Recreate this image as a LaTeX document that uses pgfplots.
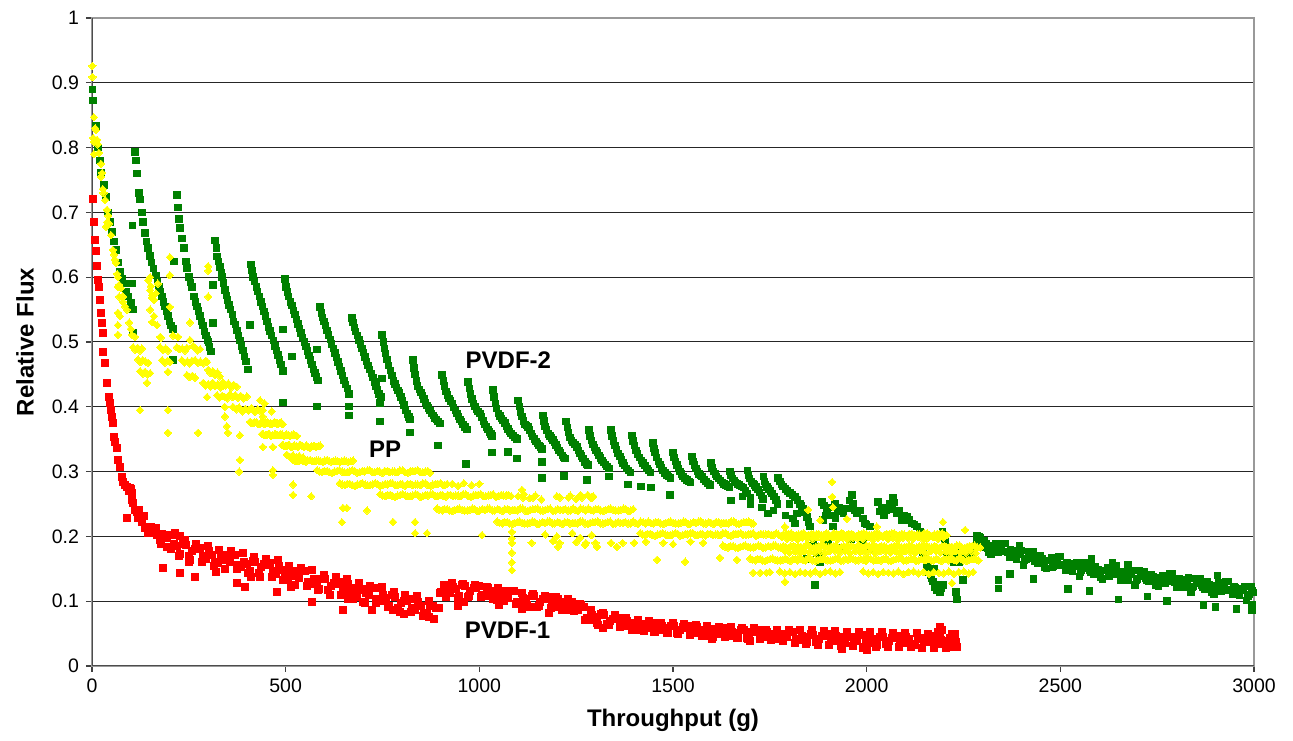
\documentclass[border=0pt]{standalone}
\usepackage{fontspec}
\setmainfont{Liberation Sans}
\usepackage{pgfplots}
\pgfplotsset{compat=1.18}
\definecolor{pvgreen}{RGB}{0,128,0}
\definecolor{pvred}{RGB}{255,0,0}
\definecolor{ppyellow}{RGB}{255,255,0}
\begin{document}
\begin{tikzpicture}
\begin{axis}[
  name=ax,
  scale only axis,
  width=581pt, height=324pt,
  xmin=0, xmax=3000, ymin=0, ymax=1,
  xtick={0,500,1000,1500,2000,2500,3000},
  xticklabels={0,500,1000,1500,2000,2500,3000},
  ytick={0,0.1,0.2,0.3,0.4,0.5,0.6,0.7,0.8,0.9,1},
  yticklabels={0,0.1,0.2,0.3,0.4,0.5,0.6,0.7,0.8,0.9,1},
  ymajorgrids,
  grid style={draw=black!85, line width=0.5pt},
  axis line style={draw=black!40, line width=1pt},
  tick align=outside, tick pos=left,
  major tick length=3pt,
  tick style={draw=black!75, line width=0.6pt},
  ticklabel style={font=\fontsize{9.75}{11}\selectfont},
  xlabel={Throughput (g)},
  ylabel={Relative Flux},
  label style={font=\fontsize{12}{14}\selectfont\bfseries},
  xlabel style={at={(axis description cs:0.5,-0.0941)}, anchor=base},
  ylabel style={at={(axis description cs:-0.0577,0.5)}, anchor=center},
  clip=true,
]
\draw[black!70, line width=1pt] (axis cs:0,0) -- (axis cs:0,1);
\draw[black!70, line width=1pt] (axis cs:0,0) -- (axis cs:3000,0);

% PVDF-1 (red)
\addplot[only marks, mark=square*, mark size=1.75pt, color=pvred, mark options={fill=pvred, draw=pvred, line width=0pt}] coordinates {
(3,0.72) (5,0.685) (8,0.657) (10,0.64) (13,0.617) (15,0.596) (18,0.585) (20,0.565) (23,0.545) (26,0.53) (28,0.514) (29,0.485) (34,0.467) (39,0.437) (44,0.415) (47,0.406) (50,0.395) (52,0.385) (54,0.375) (57,0.353) (60,0.345) (65,0.336) (67,0.318) (72,0.307) (77,0.292) (80,0.284) (85,0.28) (90,0.276) (95,0.27) (98,0.275) (103,0.256) (111,0.24) (119,0.233) (129,0.222) (137,0.215) (150,0.213) (163,0.205) (176,0.194) (194,0.184)
(100,0.273) (115,0.237) (130,0.229) (145,0.206) (160,0.212) (175,0.196) (190,0.202) (205,0.180) (220,0.185) (235,0.188) (250,0.170) (265,0.181) (280,0.182) (295,0.165) (310,0.171) (325,0.159) (340,0.171) (355,0.161) (370,0.172) (385,0.153) (400,0.158) (415,0.162) (430,0.144) (445,0.157) (460,0.159) (475,0.142) (490,0.148) (505,0.135) (520,0.146) (535,0.136) (550,0.146) (565,0.127) (580,0.131) (595,0.135) (610,0.117) (625,0.128) (640,0.130) (655,0.114) (670,0.120) (685,0.107) (700,0.119) (715,0.109) (730,0.120) (745,0.101) (760,0.105) (775,0.109) (790,0.090) (805,0.101) (820,0.103) (835,0.087) (850,0.093) (865,0.081) (880,0.093) (895,0.089) (910,0.125) (925,0.113) (940,0.119) (955,0.125) (970,0.107) (985,0.120) (1000,0.123) (1015,0.108) (1030,0.115) (1045,0.102) (1060,0.115) (1075,0.105) (1090,0.115) (1105,0.097) (1120,0.103) (1135,0.108) (1150,0.091) (1165,0.104) (1180,0.107) (1195,0.091) (1210,0.098) (1225,0.086) (1240,0.099) (1255,0.087) (1270,0.091) (1285,0.071) (1300,0.076) (1315,0.080) (1330,0.065) (1345,0.073) (1360,0.074) (1375,0.062) (1390,0.066) (1405,0.056) (1420,0.065) (1435,0.059) (1450,0.067) (1465,0.055) (1480,0.059) (1495,0.062) (1510,0.051) (1525,0.060) (1540,0.062) (1555,0.051) (1570,0.056) (1585,0.047) (1600,0.057) (1615,0.050) (1630,0.059) (1645,0.047) (1660,0.051) (1675,0.055) (1690,0.043) (1705,0.053) (1720,0.055) (1735,0.044) (1750,0.049) (1765,0.041) (1780,0.050) (1795,0.044) (1810,0.053) (1825,0.040) (1840,0.045) (1855,0.049) (1870,0.037) (1885,0.046) (1900,0.049) (1915,0.039) (1930,0.044) (1945,0.036) (1960,0.045) (1975,0.039) (1990,0.048) (2005,0.036) (2020,0.041) (2035,0.045) (2050,0.034) (2065,0.043) (2080,0.046) (2095,0.036) (2110,0.041) (2125,0.033) (2140,0.043) (2155,0.037) (2170,0.046) (2185,0.034) (2200,0.039) (2215,0.043) (2230,0.031)
(107,0.251) (122,0.240) (137,0.213) (152,0.214) (167,0.202) (182,0.204) (197,0.184) (212,0.188) (227,0.173) (242,0.187) (257,0.177) (272,0.180) (287,0.169) (302,0.177) (317,0.160) (332,0.170) (347,0.164) (362,0.172) (377,0.156) (392,0.161) (407,0.146) (422,0.161) (437,0.152) (452,0.156) (467,0.146) (482,0.155) (497,0.137) (512,0.146) (527,0.139) (542,0.146) (557,0.130) (572,0.134) (587,0.119) (602,0.134) (617,0.124) (632,0.127) (647,0.117) (662,0.126) (677,0.109) (692,0.118) (707,0.112) (722,0.120) (737,0.104) (752,0.109) (767,0.093) (782,0.107) (797,0.097) (812,0.100) (827,0.090) (842,0.099) (857,0.082) (872,0.092) (887,0.089) (902,0.114) (917,0.115) (932,0.122) (947,0.108) (962,0.124) (977,0.115) (992,0.120) (1007,0.110) (1022,0.120) (1037,0.104) (1052,0.114) (1067,0.108) (1082,0.116) (1097,0.099) (1112,0.105) (1127,0.091) (1142,0.108) (1157,0.098) (1172,0.103) (1187,0.094) (1202,0.104) (1217,0.088) (1232,0.097) (1247,0.092) (1262,0.094) (1277,0.074) (1292,0.079) (1307,0.064) (1322,0.079) (1337,0.070) (1352,0.073) (1367,0.065) (1382,0.070) (1397,0.058) (1412,0.064) (1427,0.061) (1442,0.067) (1457,0.056) (1472,0.061) (1487,0.051) (1502,0.062) (1517,0.056) (1532,0.059) (1547,0.053) (1562,0.060) (1577,0.049) (1592,0.056) (1607,0.052) (1622,0.059) (1637,0.048) (1652,0.053) (1667,0.043) (1682,0.055) (1697,0.049) (1712,0.052) (1727,0.046) (1742,0.053) (1757,0.042) (1772,0.049) (1787,0.046) (1802,0.052) (1817,0.042) (1832,0.046) (1847,0.037) (1862,0.048) (1877,0.042) (1892,0.046) (1907,0.040) (1922,0.047) (1937,0.037) (1952,0.044) (1967,0.041) (1982,0.048) (1997,0.038) (2012,0.042) (2027,0.033) (2042,0.045) (2057,0.039) (2072,0.043) (2087,0.037) (2102,0.045) (2117,0.034) (2132,0.042) (2147,0.039) (2162,0.045) (2177,0.035) (2192,0.040) (2207,0.031) (2222,0.042) (2230,0.037)
(104,0.267) (119,0.228) (134,0.231) (149,0.205) (164,0.213) (179,0.189) (194,0.198) (209,0.202) (224,0.170) (239,0.194) (254,0.163) (269,0.189) (284,0.161) (299,0.185) (314,0.155) (329,0.179) (344,0.150) (359,0.177) (374,0.150) (389,0.175) (404,0.144) (419,0.168) (434,0.138) (449,0.165) (464,0.138) (479,0.163) (494,0.132) (509,0.155) (524,0.125) (539,0.151) (554,0.123) (569,0.148) (584,0.117) (599,0.140) (614,0.110) (629,0.137) (644,0.110) (659,0.135) (674,0.104) (689,0.128) (704,0.097) (719,0.124) (734,0.097) (749,0.122) (764,0.091) (779,0.114) (794,0.083) (809,0.110) (824,0.083) (839,0.108) (854,0.077) (869,0.101) (884,0.073) (899,0.112) (914,0.107) (929,0.128) (944,0.105) (959,0.127) (974,0.108) (989,0.125) (1004,0.106) (1019,0.122) (1034,0.103) (1049,0.120) (1064,0.100) (1079,0.116) (1094,0.096) (1109,0.112) (1124,0.094) (1139,0.111) (1154,0.092) (1169,0.108) (1184,0.089) (1199,0.106) (1214,0.087) (1229,0.104) (1244,0.085) (1259,0.096) (1274,0.071) (1289,0.086) (1304,0.067) (1319,0.082) (1334,0.064) (1349,0.078) (1364,0.060) (1379,0.074) (1394,0.056) (1409,0.071) (1424,0.054) (1439,0.069) (1454,0.052) (1469,0.067) (1484,0.051) (1499,0.066) (1514,0.049) (1529,0.065) (1544,0.048) (1559,0.063) (1574,0.046) (1589,0.062) (1604,0.045) (1619,0.060) (1634,0.044) (1649,0.060) (1664,0.043) (1679,0.059) (1694,0.042) (1709,0.058) (1724,0.041) (1739,0.056) (1754,0.040) (1769,0.055) (1784,0.039) (1799,0.056) (1814,0.035) (1829,0.056) (1844,0.034) (1859,0.055) (1874,0.033) (1889,0.054) (1904,0.032) (1919,0.054) (1934,0.031) (1949,0.053) (1964,0.031) (1979,0.052) (1994,0.030) (2009,0.052) (2024,0.030) (2039,0.052) (2054,0.030) (2069,0.051) (2084,0.029) (2099,0.051) (2114,0.029) (2129,0.051) (2144,0.028) (2159,0.050) (2174,0.028) (2189,0.050) (2204,0.028) (2219,0.049) (2232,0.030)
(2190,0.060) (2195,0.055) (2185,0.052) (1935,0.026) (2000,0.025) (1990,0.028) (1600,0.042) (1320,0.058) (1110,0.088) (1050,0.094) (960,0.098) (945,0.093) (870,0.076) (805,0.080) (660,0.104) (700,0.098) (515,0.122) (410,0.138) (320,0.145) (250,0.160) (215,0.205) (227,0.200) (90,0.228) (183,0.151) (227,0.143) (266,0.137) (374,0.128) (395,0.122) (478,0.114) (568,0.099) (648,0.086) (723,0.086) (777,0.086) (2225,0.030) (2228,0.050) (1700,0.038) (1450,0.052) (1180,0.082)
};

% PVDF-2 (green)
\addplot[only marks, mark=square*, mark size=1.6pt, color=pvgreen, mark options={fill=pvgreen, draw=pvgreen, line width=0pt}] coordinates {
(1,0.89) (3,0.873) (10,0.833) (15,0.80) (21,0.78) (23,0.762) (31,0.742) (36,0.724) (41,0.70) (46,0.685) (52,0.67) (57,0.655) (62,0.642) (67,0.623) (72,0.608) (78,0.598) (83,0.59) (88,0.578) (93,0.57) (99,0.553) (101,0.56) (106,0.55)
(111,0.793) (114,0.78) (116,0.76) (121,0.73) (124,0.72) (129,0.70) (132,0.685) (137,0.668) (141,0.655) (145,0.645) (150,0.633) (154,0.623) (158,0.613) (165,0.603) (169,0.593) (173,0.585) (177,0.577) (181,0.57) (185,0.562) (188,0.555) (192,0.548) (196,0.54) (200,0.532) (204,0.525) (209,0.52)
(219,0.727) (222,0.708) (225,0.69) (227,0.676) (232,0.66) (238,0.645) (243,0.624) (245,0.614) (250,0.60) (254,0.592) (258,0.585) (263,0.57) (267,0.562) (271,0.555) (275,0.548) (279,0.54) (283,0.532) (287,0.525) (291,0.516) (294,0.51) (298,0.503) (300,0.50) (304,0.492) (307,0.485)
(318,0.657) (321,0.645) (323,0.632) (327,0.624) (330,0.616) (334,0.607) (336,0.60) (340,0.591) (343,0.58) (347,0.572) (350,0.565) (354,0.557) (358,0.55) (362,0.542) (366,0.532) (370,0.527) (374,0.518) (378,0.51) (382,0.502) (386,0.494) (390,0.487) (394,0.478) (398,0.47) (403,0.458)
(410,0.62) (413,0.61) (416,0.60) (420,0.593) (424,0.585) (428,0.578) (432,0.57) (436,0.562) (440,0.555) (444,0.547) (448,0.54) (452,0.532) (456,0.523) (460,0.517) (464,0.51) (468,0.502) (472,0.494) (476,0.487) (480,0.48) (484,0.472) (488,0.465) (493,0.455)
(498,0.597) (501,0.585) (504,0.577) (508,0.57) (512,0.562) (516,0.556) (520,0.549) (524,0.542) (528,0.535) (532,0.528) (536,0.521) (540,0.514) (544,0.507) (548,0.50) (552,0.493) (556,0.486) (560,0.479) (564,0.472) (568,0.465) (572,0.458) (576,0.452) (580,0.446) (583,0.441)
(589,0.554) (592,0.545) (595,0.538) (599,0.532) (603,0.525) (607,0.518) (611,0.511) (615,0.504) (619,0.497) (623,0.49) (627,0.483) (631,0.476) (635,0.469) (639,0.462) (643,0.455) (647,0.448) (651,0.441) (655,0.434) (659,0.428) (664,0.42)
(671,0.537) (674,0.53) (677,0.522) (681,0.516) (685,0.51) (689,0.503) (693,0.497) (697,0.49) (701,0.484) (705,0.477) (709,0.47) (713,0.464) (717,0.458) (721,0.451) (725,0.445) (729,0.438) (733,0.432) (737,0.426) (741,0.42) (746,0.415)
(749,0.511) (752,0.50) (755,0.49) (758,0.482) (762,0.473) (766,0.464) (770,0.456) (774,0.448) (778,0.44) (782,0.435) (786,0.43) (790,0.425) (794,0.421) (798,0.415) (802,0.41) (806,0.403) (810,0.395) (814,0.389) (818,0.384) (821,0.38)
(829,0.472) (831,0.46) (834,0.45) (837,0.44) (841,0.432) (845,0.427) (849,0.422) (853,0.417) (857,0.412) (861,0.407) (865,0.402) (869,0.398) (873,0.394) (877,0.39) (881,0.387) (885,0.383) (889,0.38) (893,0.377) (898,0.374)
(904,0.449) (907,0.44) (910,0.432) (914,0.424) (918,0.418) (922,0.413) (926,0.409) (930,0.405) (934,0.399) (938,0.394) (942,0.39) (946,0.385) (950,0.38) (954,0.377) (958,0.373) (963,0.369) (968,0.365)
(971,0.438) (974,0.428) (977,0.42) (981,0.412) (985,0.405) (989,0.40) (993,0.396) (997,0.393) (1002,0.39) (1006,0.384) (1010,0.378) (1014,0.373) (1018,0.369) (1022,0.365) (1026,0.361) (1030,0.358) (1033,0.355)
(1035,0.426) (1038,0.415) (1041,0.405) (1045,0.397) (1049,0.39) (1053,0.386) (1057,0.382) (1061,0.379) (1066,0.375) (1070,0.37) (1074,0.366) (1078,0.362) (1082,0.359) (1087,0.356) (1092,0.353) (1097,0.35)
(1100,0.41) (1103,0.40) (1106,0.392) (1110,0.385) (1114,0.378) (1118,0.373) (1122,0.371) (1126,0.369) (1130,0.364) (1134,0.359) (1138,0.354) (1142,0.35) (1146,0.346) (1150,0.343) (1154,0.34) (1158,0.338) (1162,0.335)
(1164,0.387) (1167,0.378) (1170,0.37) (1174,0.364) (1178,0.358) (1182,0.355) (1186,0.352) (1190,0.349) (1194,0.345) (1198,0.341) (1202,0.337) (1206,0.333) (1210,0.329) (1214,0.325) (1218,0.322) (1221,0.32)
(1224,0.377) (1227,0.368) (1230,0.36) (1234,0.353) (1238,0.348) (1242,0.345) (1247,0.342) (1252,0.338) (1256,0.333) (1260,0.328) (1264,0.324) (1268,0.32) (1273,0.315) (1277,0.312) (1281,0.31)
(1283,0.364) (1286,0.355) (1289,0.348) (1293,0.342) (1297,0.337) (1301,0.333) (1305,0.329) (1309,0.325) (1313,0.321) (1317,0.317) (1321,0.314) (1325,0.311) (1330,0.308) (1335,0.305)
(1340,0.364) (1343,0.355) (1346,0.347) (1350,0.34) (1354,0.334) (1358,0.328) (1363,0.323) (1367,0.318) (1371,0.313) (1375,0.309) (1380,0.305) (1385,0.302) (1390,0.299)
(1394,0.356) (1397,0.347) (1400,0.34) (1404,0.333) (1408,0.327) (1413,0.322) (1418,0.317) (1423,0.313) (1428,0.309) (1433,0.305) (1437,0.302) (1442,0.299)
(1448,0.344) (1451,0.336) (1454,0.329) (1458,0.322) (1462,0.316) (1466,0.311) (1470,0.306) (1474,0.302) (1479,0.298) (1484,0.295) (1488,0.292) (1493,0.29)
(1500,0.329) (1503,0.322) (1506,0.316) (1510,0.31) (1514,0.305) (1518,0.30) (1522,0.296) (1526,0.292) (1531,0.289) (1536,0.287) (1541,0.285) (1545,0.283)
(1549,0.323) (1552,0.316) (1555,0.31) (1559,0.305) (1563,0.30) (1567,0.296) (1571,0.294) (1575,0.292) (1580,0.288) (1585,0.285) (1590,0.282) (1595,0.279)
(1598,0.313) (1601,0.306) (1605,0.30) (1609,0.296) (1613,0.292) (1617,0.289) (1622,0.286) (1627,0.283) (1632,0.281) (1637,0.279) (1642,0.277) (1646,0.275)
(1647,0.30) (1650,0.294) (1654,0.289) (1658,0.286) (1662,0.283) (1667,0.281) (1672,0.279) (1677,0.277) (1682,0.275) (1687,0.27) (1691,0.266)
(1692,0.302) (1695,0.295) (1698,0.289) (1702,0.285) (1706,0.282) (1710,0.279) (1714,0.276) (1719,0.272) (1724,0.268) (1729,0.263) (1732,0.258)
(1733,0.292) (1736,0.285) (1739,0.28) (1743,0.276) (1747,0.273) (1751,0.27) (1756,0.266) (1761,0.262) (1766,0.256) (1770,0.25)
(1771,0.29) (1776,0.285) (1780,0.28) (1784,0.277) (1790,0.273) (1796,0.27) (1802,0.267) (1808,0.264) (1815,0.261) (1821,0.256) (1828,0.25) (1832,0.247) (1836,0.243) (1841,0.237) (1846,0.23) (1850,0.222) (1854,0.215) (1815,0.22) (1820,0.235) (1800,0.25)
(1885,0.253) (1898,0.24) (1918,0.25) (1926,0.238) (1949,0.243) (1962,0.264) (1970,0.24) (1983,0.24) (1996,0.22) (2009,0.215) (1887,0.225) (1913,0.215) (1890,0.248) (1905,0.245) (1910,0.232) (1930,0.245) (1940,0.236) (1955,0.255) (1965,0.25) (1975,0.235) (1990,0.228) (2000,0.218) (1895,0.232) (1920,0.228) (1867,0.184) (1872,0.174) (1867,0.125) (1862,0.19) (1878,0.168)
(1860,0.185) (1875,0.178) (1900,0.19) (1930,0.183) (1960,0.195) (1990,0.19) (2010,0.18) (1850,0.2) (1845,0.165) (1880,0.16)
(2029,0.253) (2034,0.238) (2040,0.245) (2050,0.24) (2060,0.25) (2068,0.259) (2072,0.252) (2078,0.236) (2085,0.24) (2091,0.225) (2098,0.232) (2104,0.23) (2110,0.225) (2117,0.22) (2124,0.218) (2130,0.215) (2138,0.207) (2045,0.232) (2065,0.242)
(2145,0.175) (2150,0.165) (2156,0.153) (2160,0.145) (2164,0.14) (2168,0.135) (2171,0.13) (2176,0.122) (2182,0.117) (2189,0.114) (2193,0.12) (2197,0.125) (2195,0.207) (2199,0.20) (2202,0.194) (2207,0.174) (2212,0.17) (2220,0.165) (2231,0.114) (2233,0.103) (2241,0.175) (2249,0.133) (2255,0.172) (2262,0.176) (2268,0.17) (2275,0.175) (2285,0.19) (2293,0.198) (2160,0.16) (2175,0.15) (2185,0.125) (2225,0.16) (2240,0.16)
(2285,0.201) (2297,0.183) (2309,0.189) (2321,0.173) (2333,0.188) (2345,0.177) (2357,0.189) (2369,0.167) (2381,0.173) (2393,0.176) (2405,0.156) (2417,0.177) (2429,0.176) (2441,0.158) (2453,0.166) (2465,0.150) (2477,0.167) (2489,0.156) (2501,0.169) (2513,0.147) (2525,0.154) (2537,0.158) (2549,0.138) (2561,0.159) (2573,0.159) (2585,0.141) (2597,0.149) (2609,0.134) (2621,0.151) (2633,0.141) (2645,0.154) (2657,0.133) (2669,0.140) (2681,0.144) (2693,0.125) (2705,0.147) (2717,0.146) (2729,0.130) (2741,0.138) (2753,0.123) (2765,0.140) (2777,0.130) (2789,0.143) (2801,0.122) (2813,0.129) (2825,0.133) (2837,0.114) (2849,0.135) (2861,0.135) (2873,0.118) (2885,0.126) (2897,0.111) (2909,0.128) (2921,0.117) (2933,0.130) (2945,0.110) (2957,0.117) (2969,0.120) (2981,0.101) (2993,0.122)
(2291,0.187) (2303,0.193) (2315,0.176) (2327,0.185) (2339,0.175) (2351,0.189) (2363,0.175) (2375,0.178) (2387,0.165) (2399,0.178) (2411,0.165) (2423,0.168) (2435,0.162) (2447,0.170) (2459,0.153) (2471,0.163) (2483,0.154) (2495,0.169) (2507,0.155) (2519,0.159) (2531,0.146) (2543,0.160) (2555,0.147) (2567,0.150) (2579,0.145) (2591,0.153) (2603,0.137) (2615,0.147) (2627,0.139) (2639,0.154) (2651,0.141) (2663,0.145) (2675,0.133) (2687,0.147) (2699,0.134) (2711,0.138) (2723,0.133) (2735,0.141) (2747,0.125) (2759,0.135) (2771,0.127) (2783,0.142) (2795,0.129) (2807,0.134) (2819,0.122) (2831,0.136) (2843,0.123) (2855,0.127) (2867,0.122) (2879,0.130) (2891,0.114) (2903,0.124) (2915,0.115) (2927,0.130) (2939,0.117) (2951,0.121) (2963,0.109) (2975,0.123) (2987,0.110) (2999,0.113)
(2288,0.190) (2300,0.193) (2312,0.182) (2324,0.185) (2336,0.175) (2348,0.182) (2360,0.177) (2372,0.180) (2384,0.169) (2396,0.173) (2408,0.163) (2420,0.171) (2432,0.166) (2444,0.169) (2456,0.158) (2468,0.163) (2480,0.153) (2492,0.162) (2504,0.157) (2516,0.160) (2528,0.150) (2540,0.154) (2552,0.145) (2564,0.154) (2576,0.148) (2588,0.152) (2600,0.142) (2612,0.147) (2624,0.138) (2636,0.147) (2648,0.142) (2660,0.146) (2672,0.136) (2684,0.141) (2696,0.132) (2708,0.141) (2720,0.136) (2732,0.140) (2744,0.131) (2756,0.136) (2768,0.127) (2780,0.136) (2792,0.131) (2804,0.135) (2816,0.125) (2828,0.130) (2840,0.121) (2852,0.130) (2864,0.125) (2876,0.129) (2888,0.119) (2900,0.124) (2912,0.115) (2924,0.124) (2936,0.118) (2948,0.122) (2960,0.112) (2972,0.117) (2984,0.108) (2996,0.116)
(2340,0.133) (2340,0.12) (2370,0.142) (2430,0.134) (2520,0.119) (2575,0.116) (2650,0.103) (2725,0.107) (2775,0.10) (2870,0.094) (2900,0.091) (2955,0.088) (2995,0.086) (2995,0.095) (2635,0.159) (2675,0.156) (2905,0.14) (2580,0.165) (2395,0.185) (2290,0.2)
(106,0.515) (209,0.472) (312,0.588) (312,0.529) (408,0.526) (493,0.519) (493,0.407) (516,0.478) (581,0.488) (581,0.40) (664,0.40) (664,0.387) (744,0.406) (744,0.377) (749,0.444) (105,0.68) (103,0.59) (212,0.624)
(821,0.36) (893,0.34) (966,0.312) (1033,0.329) (1074,0.33) (1097,0.32) (1162,0.29) (1162,0.315) (1219,0.293) (1278,0.287) (1335,0.292) (1384,0.28) (1417,0.277) (1443,0.275) (1492,0.264)
(1650,0.255) (1700,0.25) (1730,0.245) (1760,0.24) (1790,0.232) (1810,0.228) (1745,0.235) (1700,0.26) (1680,0.262)
};

% PP (yellow)
\addplot[only marks, mark=square*, mark size=1.3pt, color=ppyellow, mark options={rotate=45, fill=ppyellow, draw=ppyellow, line width=0pt}] coordinates {
(1,0.926) (1,0.909) (5,0.847) (10,0.827) (13,0.812) (3,0.815) (5,0.809) (18,0.792) (5,0.79) (23,0.775) (26,0.761) (23,0.755) (28,0.736) (34,0.719) (39,0.704) (39,0.685) (44,0.683) (36,0.678) (49,0.665) (54,0.642) (59,0.627) (62,0.622) (65,0.605) (70,0.588) (75,0.583) (70,0.57) (80,0.57) (67,0.6) (8,0.83) (15,0.805) (30,0.73) (42,0.695) (57,0.635)
(67,0.585) (78,0.57) (80,0.562) (90,0.55) (96,0.53) (103,0.511) (111,0.508) (67,0.545) (67,0.526) (67,0.511) (85,0.555) (100,0.52) (72,0.54)
(150,0.60) (152,0.586) (201,0.631) (201,0.603) (155,0.568) (300,0.617) (300,0.61) (300,0.57)
(145,0.595) (150,0.58) (155,0.572) (160,0.565) (170,0.59) (165,0.575) (150,0.55) (155,0.531) (168,0.526) (176,0.508) (178,0.507) (160,0.54)
(106,0.492) (112,0.488) (118,0.491) (124,0.487) (129,0.49)
(119,0.473) (125,0.469) (131,0.472) (138,0.47) (145,0.468)
(124,0.455) (131,0.451) (137,0.454) (144,0.45) (150,0.452) (142,0.437) (124,0.395)
(176,0.492) (183,0.488) (190,0.49) (196,0.487)
(181,0.472) (188,0.468) (195,0.471) (201,0.469)
(196,0.454) (196,0.395) (196,0.36) (201,0.554) (209,0.51) (222,0.508)
(219,0.492) (226,0.489) (233,0.49) (240,0.487) (245,0.491)
(232,0.472) (239,0.468) (246,0.47) (252,0.467) (258,0.471)
(245,0.449) (252,0.446) (259,0.448) (266,0.445) (253,0.53) (253,0.503)
(261,0.494) (267,0.49) (273,0.487) (279,0.489)
(266,0.472) (273,0.468) (280,0.47) (287,0.467) (294,0.471) (297,0.469) (274,0.36)
(287,0.437) (293,0.433) (300,0.435) (306,0.431) (312,0.434) (297,0.415)
(300,0.457) (306,0.452) (312,0.455) (318,0.449) (324,0.453) (330,0.447)
(312,0.437) (318,0.432) (325,0.435) (332,0.43) (338,0.433)
(323,0.418) (329,0.414) (336,0.417) (343,0.415) (349,0.413)
(338,0.438) (345,0.433) (352,0.436) (359,0.43) (366,0.434) (374,0.431) (343,0.40) (343,0.385) (348,0.37)
(356,0.419) (363,0.415) (370,0.418) (377,0.414) (384,0.417) (391,0.413) (400,0.416)
(364,0.40) (372,0.396) (380,0.399) (388,0.393) (396,0.397) (404,0.394) (412,0.398) (420,0.392) (428,0.396) (436,0.393) (441,0.395)
(351,0.36) (382,0.356) (382,0.318) (380,0.30)
(408,0.377) (416,0.375) (424,0.376) (432,0.373) (440,0.376) (448,0.374) (456,0.375) (464,0.373) (472,0.376) (480,0.374) (488,0.376) (493,0.373)
(412,0.375) (420,0.376) (428,0.374) (436,0.375) (444,0.374) (452,0.376) (460,0.374) (468,0.375) (476,0.374) (484,0.375)
(434,0.41) (446,0.405) (441,0.385) (464,0.393)
(439,0.358) (447,0.356) (455,0.358) (463,0.355) (471,0.357) (479,0.356) (487,0.358) (495,0.355) (503,0.357) (511,0.355) (519,0.357) (529,0.355)
(443,0.357) (451,0.356) (459,0.357) (467,0.356) (475,0.357) (483,0.356) (491,0.357) (499,0.356) (507,0.356) (515,0.356) (524,0.356)
(441,0.338) (467,0.338) (467,0.302) (467,0.295)
(491,0.341) (499,0.339) (507,0.341) (515,0.338) (523,0.340) (531,0.338) (539,0.341) (547,0.338) (555,0.340) (563,0.337) (571,0.339) (579,0.338) (589,0.340)
(495,0.340) (503,0.339) (511,0.340) (519,0.339) (527,0.339) (535,0.340) (543,0.339) (551,0.339) (559,0.338) (567,0.339) (575,0.339) (584,0.339)
(503,0.326) (511,0.323) (519,0.325) (527,0.322) (535,0.324) (545,0.322)
(519,0.318) (530,0.316) (541,0.318) (552,0.315) (563,0.318) (574,0.316) (585,0.317) (596,0.315) (607,0.318) (618,0.315) (629,0.317) (640,0.315) (651,0.317) (662,0.315) (674,0.317)
(524,0.317) (535,0.317) (546,0.316) (557,0.317) (568,0.316) (579,0.317) (590,0.316) (601,0.317) (612,0.316) (623,0.316) (634,0.316) (645,0.316) (656,0.316) (668,0.316)
(519,0.28) (519,0.264) (566,0.262)
(581,0.302) (594,0.299) (607,0.301) (620,0.298) (633,0.301) (646,0.300) (659,0.299) (672,0.302) (685,0.298) (698,0.301) (711,0.302) (724,0.299) (737,0.301) (750,0.298) (763,0.301) (776,0.300) (789,0.299) (802,0.302) (815,0.298) (828,0.301) (841,0.302) (854,0.299) (867,0.301) (873,0.298)
(587,0.300) (600,0.301) (613,0.299) (626,0.300) (639,0.302) (652,0.299) (665,0.300) (678,0.301) (691,0.299) (704,0.300) (717,0.302) (730,0.299) (743,0.300) (756,0.301) (769,0.299) (782,0.300) (795,0.302) (808,0.299) (821,0.300) (834,0.301) (847,0.299) (860,0.300)
(640,0.282) (653,0.279) (666,0.281) (679,0.278) (692,0.281) (705,0.280) (718,0.279) (731,0.282) (744,0.278) (757,0.281) (770,0.282) (783,0.279) (796,0.281) (809,0.278) (822,0.281) (835,0.280) (848,0.279) (861,0.282) (874,0.278) (887,0.281) (900,0.282) (910,0.279) (917,0.281) (930,0.281) (945,0.278) (960,0.282) (980,0.279) (1000,0.281)
(646,0.280) (659,0.281) (672,0.279) (685,0.280) (698,0.282) (711,0.279) (724,0.280) (737,0.281) (750,0.279) (763,0.280) (776,0.282) (789,0.279) (802,0.280) (815,0.281) (828,0.279) (841,0.280) (854,0.282) (867,0.279) (880,0.280) (893,0.281) (906,0.279)
(648,0.244) (658,0.244) (645,0.222) (710,0.24) (777,0.222)
(744,0.265) (757,0.262) (770,0.264) (783,0.261) (796,0.264) (809,0.263) (822,0.262) (835,0.265) (848,0.261) (861,0.264) (874,0.265) (887,0.262) (900,0.264) (913,0.261) (926,0.264) (939,0.263) (952,0.262) (965,0.265) (978,0.261) (991,0.264) (1004,0.265) (1017,0.262) (1030,0.264) (1043,0.261) (1056,0.264) (1069,0.263) (1082,0.262)
(750,0.263) (763,0.264) (776,0.262) (789,0.263) (802,0.265) (815,0.262) (828,0.263) (841,0.264) (854,0.262) (867,0.263) (880,0.265) (893,0.262) (906,0.263) (919,0.264) (932,0.262) (945,0.263) (958,0.265) (971,0.262) (984,0.263) (997,0.264) (1010,0.262) (1023,0.263) (1036,0.265) (1049,0.262) (1062,0.263) (1075,0.264)
(1100,0.262) (1115,0.265) (1130,0.259) (1145,0.263) (1160,0.257) (1235,0.263) (1250,0.258) (1265,0.262) (1280,0.264) (1290,0.259)
(891,0.243) (904,0.240) (917,0.242) (930,0.239) (943,0.242) (956,0.241) (969,0.240) (982,0.243) (995,0.239) (1008,0.242) (1021,0.243) (1034,0.240) (1047,0.242) (1060,0.239) (1073,0.242) (1086,0.241) (1099,0.240) (1112,0.243) (1125,0.239) (1138,0.242) (1151,0.243) (1164,0.240) (1177,0.242) (1190,0.239) (1203,0.242) (1216,0.241) (1229,0.240) (1242,0.243) (1255,0.239) (1268,0.242) (1281,0.243) (1294,0.240) (1307,0.242) (1320,0.239) (1333,0.242) (1346,0.241) (1359,0.240) (1372,0.243) (1385,0.239) (1397,0.242)
(897,0.241) (910,0.242) (923,0.240) (936,0.241) (949,0.243) (962,0.240) (975,0.241) (988,0.242) (1001,0.240) (1014,0.241) (1027,0.243) (1040,0.240) (1053,0.241) (1066,0.242) (1079,0.240) (1092,0.241) (1105,0.243) (1118,0.240) (1131,0.241) (1144,0.242) (1157,0.240) (1170,0.241) (1183,0.243) (1196,0.240) (1209,0.241) (1222,0.242) (1235,0.240) (1248,0.241) (1261,0.243) (1274,0.240) (1287,0.241) (1300,0.242) (1313,0.240) (1326,0.241) (1339,0.243) (1352,0.240) (1365,0.241) (1378,0.242) (1391,0.240)
(1046,0.223) (1059,0.220) (1072,0.222) (1085,0.219) (1098,0.222) (1111,0.221) (1124,0.220) (1137,0.223) (1150,0.219) (1163,0.222) (1176,0.223) (1189,0.220) (1202,0.222) (1215,0.219) (1228,0.222) (1241,0.221) (1254,0.220) (1267,0.223) (1280,0.219) (1293,0.222) (1306,0.223) (1319,0.220) (1332,0.222) (1345,0.219) (1358,0.222) (1371,0.221) (1384,0.220) (1397,0.223) (1410,0.219) (1423,0.222) (1436,0.223) (1449,0.220) (1462,0.222) (1475,0.219) (1488,0.222) (1501,0.221) (1514,0.220) (1527,0.223) (1540,0.219) (1553,0.222) (1566,0.223) (1579,0.220) (1592,0.222) (1605,0.219) (1618,0.222) (1631,0.221) (1644,0.220) (1657,0.223) (1670,0.219) (1683,0.222) (1696,0.223) (1707,0.220)
(1052,0.221) (1065,0.222) (1078,0.220) (1091,0.221) (1104,0.223) (1117,0.220) (1130,0.221) (1143,0.222) (1156,0.220) (1169,0.221) (1182,0.223) (1195,0.220) (1208,0.221) (1221,0.222) (1234,0.220) (1247,0.221) (1260,0.223) (1273,0.220) (1286,0.221) (1299,0.222) (1312,0.220) (1325,0.221) (1338,0.223) (1351,0.220) (1364,0.221) (1377,0.222) (1390,0.220) (1403,0.221) (1416,0.223) (1429,0.220) (1442,0.221) (1455,0.222) (1468,0.220) (1481,0.221) (1494,0.223) (1507,0.220) (1520,0.221) (1533,0.222) (1546,0.220) (1559,0.221) (1572,0.223) (1585,0.220) (1598,0.221) (1611,0.222) (1624,0.220) (1637,0.221) (1650,0.223) (1663,0.220) (1676,0.221) (1689,0.222) (1702,0.220)
(1415,0.205) (1428,0.202) (1441,0.204) (1454,0.201) (1467,0.204) (1480,0.203) (1493,0.202) (1506,0.205) (1519,0.201) (1532,0.204) (1545,0.205) (1558,0.202) (1571,0.204) (1584,0.201) (1597,0.204) (1610,0.203) (1623,0.202) (1636,0.205) (1649,0.201) (1662,0.204) (1675,0.205) (1688,0.202) (1701,0.204) (1714,0.201) (1727,0.204) (1740,0.203) (1753,0.202) (1766,0.205) (1779,0.201) (1792,0.204) (1805,0.205) (1818,0.202) (1831,0.204) (1844,0.201) (1857,0.204) (1870,0.203) (1883,0.202) (1896,0.205) (1909,0.201) (1922,0.204) (1935,0.205) (1948,0.202) (1961,0.204) (1974,0.201) (1987,0.204) (2000,0.203) (2013,0.202) (2026,0.205) (2039,0.201) (2052,0.204) (2065,0.205) (2078,0.202) (2091,0.204) (2104,0.201) (2117,0.204) (2130,0.203) (2143,0.202) (2156,0.205) (2169,0.201) (2182,0.204) (2195,0.205) (2207,0.202)
(1421,0.203) (1434,0.204) (1447,0.202) (1460,0.203) (1473,0.205) (1486,0.202) (1499,0.203) (1512,0.204) (1525,0.202) (1538,0.203) (1551,0.205) (1564,0.202) (1577,0.203) (1590,0.204) (1603,0.202) (1616,0.203) (1629,0.205) (1642,0.202) (1655,0.203) (1668,0.204) (1681,0.202) (1694,0.203) (1707,0.205) (1720,0.202) (1733,0.203) (1746,0.204) (1759,0.202) (1772,0.203) (1785,0.203) (1798,0.204) (1811,0.202) (1824,0.203) (1837,0.205) (1850,0.202) (1863,0.203) (1876,0.204) (1889,0.202) (1902,0.203) (1915,0.205) (1928,0.202) (1941,0.203) (1954,0.204) (1967,0.202) (1980,0.203) (1993,0.205) (2006,0.202) (2019,0.203) (2032,0.204) (2045,0.202) (2058,0.203) (2071,0.205) (2084,0.202) (2097,0.203) (2110,0.204) (2123,0.202) (2136,0.203) (2149,0.205) (2162,0.202) (2175,0.203) (2188,0.204) (2201,0.202)
(1782,0.199) (1795,0.196) (1808,0.198) (1821,0.195) (1834,0.198) (1847,0.197) (1860,0.196) (1873,0.199) (1886,0.195) (1899,0.198) (1912,0.199) (1925,0.196) (1938,0.198) (1951,0.195) (1964,0.198) (1977,0.197) (1990,0.196) (2003,0.199) (2016,0.195) (2029,0.198) (2042,0.199) (2055,0.196) (2068,0.198) (2081,0.195) (2094,0.198) (2107,0.197) (2120,0.196) (2133,0.199) (2146,0.195) (2159,0.198) (2172,0.199) (2185,0.196) (2198,0.198)
(1629,0.186) (1642,0.183) (1655,0.185) (1668,0.182) (1681,0.185) (1694,0.184) (1707,0.183) (1720,0.186) (1733,0.182) (1746,0.185) (1759,0.186) (1772,0.183) (1785,0.185) (1798,0.182) (1811,0.185) (1824,0.184) (1837,0.183) (1850,0.186) (1863,0.182) (1876,0.185) (1889,0.186) (1902,0.183) (1915,0.185) (1928,0.182) (1941,0.185) (1954,0.184) (1967,0.183) (1980,0.186) (1993,0.182) (2006,0.185) (2019,0.186) (2032,0.183) (2045,0.185) (2058,0.182) (2071,0.185) (2084,0.184) (2097,0.183) (2110,0.186) (2123,0.182) (2136,0.185) (2149,0.186) (2162,0.183) (2175,0.185) (2188,0.182) (2201,0.185) (2214,0.184) (2227,0.183) (2240,0.186) (2253,0.182) (2266,0.185) (2279,0.186) (2293,0.183)
(1635,0.184) (1648,0.185) (1661,0.183) (1674,0.184) (1687,0.186) (1700,0.183) (1713,0.184) (1726,0.185) (1739,0.183) (1752,0.184) (1765,0.186) (1778,0.183) (1791,0.184) (1804,0.185) (1817,0.183) (1830,0.184) (1843,0.186) (1856,0.183) (1869,0.184) (1882,0.185) (1895,0.183) (1908,0.184) (1921,0.186) (1934,0.183) (1947,0.184) (1960,0.185) (1973,0.183) (1986,0.184) (1999,0.186) (2012,0.183) (2025,0.184) (2038,0.185) (2051,0.183) (2064,0.184) (2077,0.186) (2090,0.183) (2103,0.184) (2116,0.185) (2129,0.183) (2142,0.184) (2155,0.186) (2168,0.183) (2181,0.184) (2194,0.185) (2207,0.183) (2220,0.184) (2233,0.186) (2246,0.183) (2259,0.184) (2272,0.185) (2286,0.183)
(1788,0.178) (1801,0.175) (1814,0.177) (1827,0.174) (1840,0.177) (1853,0.176) (1866,0.175) (1879,0.178) (1892,0.174) (1905,0.177) (1918,0.178) (1931,0.175) (1944,0.177) (1957,0.174) (1970,0.177) (1983,0.176) (1996,0.175) (2009,0.178) (2022,0.174) (2035,0.177) (2048,0.178) (2061,0.175) (2074,0.177) (2087,0.174) (2100,0.177) (2113,0.176) (2126,0.175) (2139,0.178) (2152,0.174) (2165,0.177) (2178,0.178) (2191,0.175) (2204,0.177) (2217,0.174) (2230,0.177) (2243,0.176) (2256,0.175) (2269,0.178) (2282,0.174)
(1699,0.166) (1712,0.163) (1725,0.165) (1738,0.162) (1751,0.165) (1764,0.164) (1777,0.163) (1790,0.166) (1803,0.162) (1816,0.165) (1829,0.166) (1842,0.163) (1855,0.165) (1868,0.162) (1881,0.165) (1894,0.164) (1907,0.163) (1920,0.166) (1933,0.162) (1946,0.165) (1959,0.166) (1972,0.163) (1985,0.165) (1998,0.162) (2011,0.165) (2024,0.164) (2037,0.163) (2050,0.166) (2063,0.162) (2076,0.165) (2089,0.166) (2102,0.163) (2115,0.165) (2128,0.162) (2141,0.165) (2154,0.164) (2167,0.163) (2180,0.166) (2193,0.162) (2206,0.165) (2219,0.166) (2232,0.163) (2245,0.165) (2258,0.162) (2271,0.165) (2284,0.164)
(1705,0.164) (1718,0.165) (1731,0.163) (1744,0.164) (1757,0.166) (1770,0.163) (1783,0.164) (1796,0.164) (1809,0.165) (1822,0.163) (1835,0.164) (1848,0.166) (1861,0.163) (1874,0.164) (1887,0.165) (1900,0.163) (1913,0.164) (1926,0.166) (1939,0.163) (1952,0.164) (1965,0.165) (1978,0.163) (1991,0.164) (2004,0.166) (2017,0.163) (2030,0.164) (2043,0.165) (2056,0.163) (2069,0.164) (2082,0.166) (2095,0.163) (2108,0.164) (2121,0.165) (2134,0.163) (2147,0.164) (2160,0.166) (2173,0.163) (2186,0.164) (2199,0.165) (2212,0.163) (2225,0.164) (2238,0.166) (2251,0.163) (2264,0.164) (2277,0.165) (2289,0.163)
(1707,0.144) (1725,0.144) (1741,0.144) (1750,0.145) (1789,0.13) (1776,0.146) (1789,0.143) (1802,0.145) (1815,0.142) (1828,0.145) (1841,0.144) (1854,0.143) (1867,0.146) (1880,0.142) (1893,0.145) (1906,0.146) (1919,0.143) (1931,0.145)
(1991,0.146) (2004,0.143) (2017,0.145) (2030,0.142) (2043,0.145) (2056,0.144) (2069,0.143) (2082,0.146) (2095,0.142) (2108,0.145) (2121,0.146) (2134,0.143) (2147,0.145) (2160,0.142) (2173,0.145) (2186,0.144) (2199,0.143) (2212,0.146) (2225,0.142) (2238,0.145) (2251,0.146) (2264,0.143) (2275,0.145)
(777,0.222) (834,0.222) (834,0.205) (865,0.205) (1007,0.202) (1084,0.207) (1084,0.19) (1084,0.175) (1084,0.16) (1084,0.148) (1110,0.272) (1113,0.26) (1139,0.26) (1208,0.26) (1265,0.26) (1294,0.262) (1203,0.184) (1273,0.187) (1304,0.184) (1355,0.184) (1459,0.164) (1531,0.161) (1621,0.167) (1665,0.164)
(1084,0.197) (1135,0.19) (1190,0.193) (1207,0.19) (1250,0.191) (1275,0.19) (1300,0.19) (1340,0.19) (1370,0.19) (1400,0.19) (1430,0.192) (1475,0.19) (1500,0.188) (1545,0.192) (1578,0.19)
(1170,0.203) (1200,0.20) (1240,0.205) (1260,0.198) (1290,0.202) (1200,0.262) (1230,0.26) (1260,0.263) (1290,0.26)
(1911,0.284) (1911,0.261) (1849,0.241) (1880,0.225) (1949,0.227) (2026,0.215) (2197,0.222) (2254,0.21) (1789,0.215) (2220,0.128) (1913,0.245)
};

\node[font=\fontsize{12}{14}\selectfont\bfseries] at (axis cs:1075,0.472) {PVDF-2};
\node[font=\fontsize{12}{14}\selectfont\bfseries] at (axis cs:757,0.335) {PP};
\node[font=\fontsize{12}{14}\selectfont\bfseries] at (axis cs:1073,0.055) {PVDF-1};
\end{axis}
\pgfresetboundingbox
\path[use as bounding box] ([xshift=-46pt,yshift=-37.5pt]ax.south west) rectangle ([xshift=19.5pt,yshift=9pt]ax.north east);
\end{tikzpicture}
\end{document}
